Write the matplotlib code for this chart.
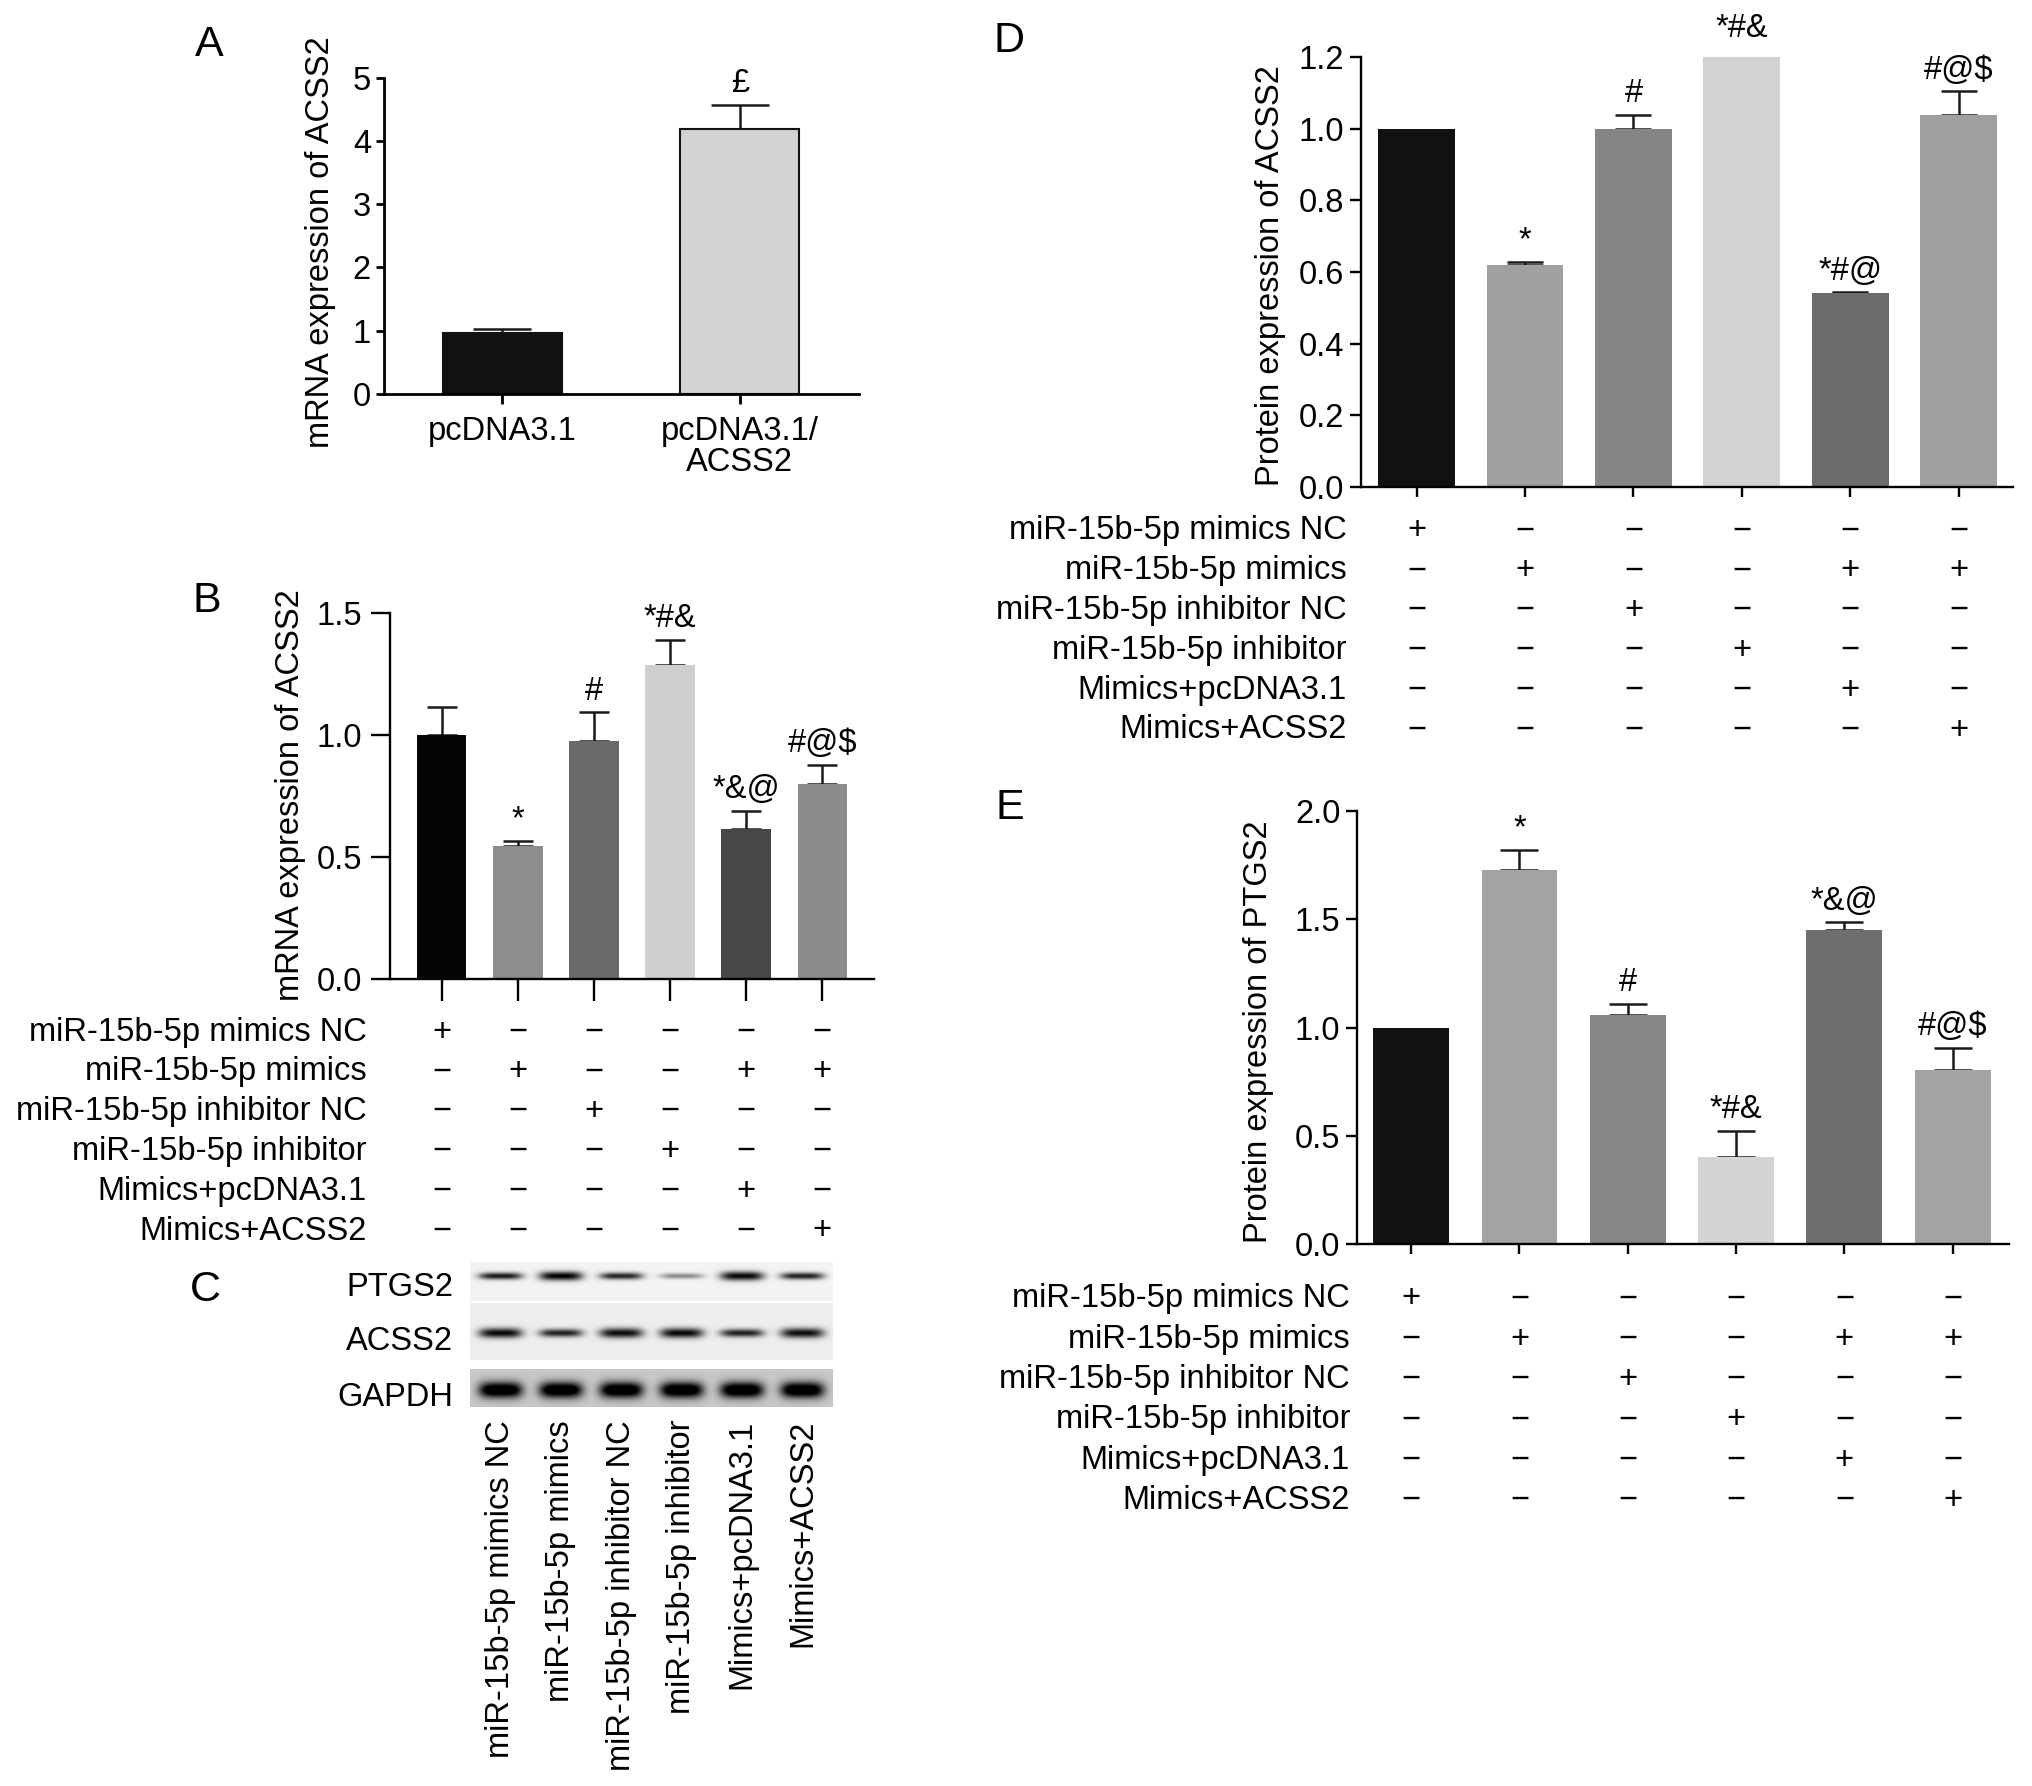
import numpy as np
import matplotlib
matplotlib.use('Agg')
import matplotlib.pyplot as plt
from matplotlib.transforms import blended_transform_factory

plt.rcParams['font.family'] = ['Liberation Sans', 'DejaVu Sans']

W, H = 2032, 1786
DPI = 100
FS = 23.5

# ---------------- data ----------------
a_groups = ['pcDNA3.1', 'pcDNA3.1/\nACSS2']
a_values = [0.97, 4.19]
a_errors = [0.06, 0.38]
a_marks = ['', '£']
a_colors = ['#111111', '#d3d3d3']

row_labels = ['miR-15b-5p mimics NC', 'miR-15b-5p mimics', 'miR-15b-5p inhibitor NC',
              'miR-15b-5p inhibitor', 'Mimics+pcDNA3.1', 'Mimics+ACSS2']
design = [[1, 0, 0, 0, 0, 0],
          [0, 1, 0, 0, 1, 1],
          [0, 0, 1, 0, 0, 0],
          [0, 0, 0, 1, 0, 0],
          [0, 0, 0, 0, 1, 0],
          [0, 0, 0, 0, 0, 1]]

b_values = [1.0, 0.546, 0.975, 1.288, 0.617, 0.80]
b_errors = [0.114, 0.019, 0.12, 0.104, 0.073, 0.078]
b_marks = ['', '*', '#', '*#&', '*&@', '#@$']
b_colors = ['#050505', '#8d8d8d', '#6a6a6a', '#cfcfcf', '#474747', '#8c8c8c']

d_values = [1.0, 0.62, 1.0, 1.2, 0.541, 1.038]
d_errors = [0.0, 0.008, 0.038, 0.02, 0.003, 0.066]
d_marks = ['', '*', '#', '*#&', '*#@', '#@$']
d_colors = ['#111111', '#a0a0a0', '#858585', '#d2d2d2', '#6b6b6b', '#a0a0a0']

e_values = [1.0, 1.726, 1.056, 0.402, 1.451, 0.804]
e_errors = [0.0, 0.095, 0.054, 0.121, 0.035, 0.102]
e_marks = ['', '*', '#', '*#&', '*&@', '#@$']
e_colors = ['#111111', '#a3a3a3', '#868686', '#d4d4d4', '#6e6e6e', '#a3a3a3']

blot_rows = ['PTGS2', 'ACSS2', 'GAPDH']
ptgs2_band = [0.85, 0.95, 0.80, 0.40, 0.92, 0.82]
ptgs2_thick = [1.0, 1.3, 1.0, 0.8, 1.3, 1.0]
acss2_band = [0.90, 0.80, 0.88, 0.90, 0.80, 0.88]
acss2_thick = [1.1, 0.9, 1.1, 1.1, 0.9, 1.1]
gapdh_band = [1.0, 1.0, 1.0, 1.0, 1.0, 1.0]
gapdh_thick = [1.0, 1.0, 1.0, 1.0, 1.0, 1.0]

# ---------------- helpers ----------------
fig = plt.figure(figsize=(W / DPI, H / DPI), dpi=DPI)


def rect(l, t, r, b):
    return [l / W, 1 - b / H, (r - l) / W, (b - t) / H]


def bar_panel(box, xlim, ylim, yticks, fmt, values, errors, colors, marks, width,
              capsize, ylen, xlen, ypad, edge=None, lw=1.7):
    ax = fig.add_axes(rect(*box))
    x = np.arange(len(values))
    if edge:
        ax.bar(x, values, width=width, color=colors, edgecolor=edge, linewidth=1.5, zorder=2)
    else:
        ax.bar(x, values, width=width, color=colors, linewidth=0, zorder=2)
    idx = [i for i, e in enumerate(errors) if e > 0]
    ax.errorbar([x[i] for i in idx], [values[i] for i in idx],
                yerr=[[0] * len(idx), [errors[i] for i in idx]], fmt='none',
                ecolor='#1a1a1a', elinewidth=1.8, capsize=capsize, capthick=1.8, zorder=1)
    for i, m in enumerate(marks):
        if m:
            ax.annotate(m, (x[i], values[i] + errors[i]), xytext=(0, 4),
                        textcoords='offset points', ha='center', va='bottom',
                        fontsize=FS, annotation_clip=False)
    ax.set_xlim(*xlim)
    ax.set_ylim(*ylim)
    ax.set_yticks(yticks)
    ax.set_yticklabels([fmt.format(v) for v in yticks])
    ax.set_xticks(x)
    for s in ['top', 'right']:
        ax.spines[s].set_visible(False)
    for s in ['left', 'bottom']:
        ax.spines[s].set_linewidth(lw)
    ax.tick_params(axis='y', length=ylen, width=lw, labelsize=FS, pad=ypad)
    ax.tick_params(axis='x', length=xlen, width=lw, labelsize=FS)
    return ax


def table(ax, first_px, step_px, label_right_px):
    tr = blended_transform_factory(ax.transData, fig.transFigure)
    for r, (lab, row) in enumerate(zip(row_labels, design)):
        ypx = first_px + r * step_px + 11.5
        yf = 1 - ypx / H
        fig.text(label_right_px / W, yf, lab, ha='right', va='baseline', fontsize=FS)
        for i, v in enumerate(row):
            ax.text(i, yf, '+' if v else '\u2212', transform=tr, ha='center',
                    va='baseline', fontsize=FS, clip_on=False)


def panel_label(x, y, s):
    fig.text(x / W, 1 - y / H, s, ha='center', va='center', fontsize=31)


def ylabel(x, y, s):
    fig.text(x / W, 1 - y / H, s, ha='center', va='center', rotation=90, fontsize=FS)


# ---------------- panel A ----------------
axA = bar_panel((383.5, 77.5, 858.6, 394), (-0.5, 1.5), (0, 5), [0, 1, 2, 3, 4, 5], '{:.0f}',
                a_values, a_errors, a_colors, a_marks, 0.5, 21, 6, 7.5, 3, edge='#111111', lw=2.0)
axA.set_xticklabels(a_groups, linespacing=1.0)
axA.tick_params(axis='x', pad=8)
panel_label(209, 45, 'A')
ylabel(320, 242, 'mRNA expression of ACSS2')

# ---------------- panel B ----------------
axB = bar_panel((390, 613.4, 874, 979), (-0.68, 5.68), (0, 1.5), [0, 0.5, 1.0, 1.5], '{:.1f}',
                b_values, b_errors, b_colors, b_marks, 0.65, 11, 14, 16, 6)
axB.set_xticklabels([])
table(axB, 1029, 39.8, 367)
panel_label(207, 601, 'B')
ylabel(290, 795, 'mRNA expression of ACSS2')

# ---------------- panel C (western blot) ----------------
axC = fig.add_axes(rect(470, 1262, 833, 1407))
nx, ny = 363, 145
xs = np.linspace(-0.5, 5.5, nx)
ys = np.arange(ny) + 0.5
X, Y = np.meshgrid(xs, ys)
dark = np.zeros((ny, nx))
strips = [(0, 39, 0.05, 14, 3.5, ptgs2_band, ptgs2_thick),
          (41, 98, 0.07, 71, 4.5, acss2_band, acss2_thick),
          (107, 145, 0.22, 128, 8.0, gapdh_band, gapdh_thick)]
for (y0, y1, bg, yc, hw, inten, thick) in strips:
    inside = (Y >= y0) & (Y < y1)
    val = np.full_like(X, bg)
    for lane, (I, t) in enumerate(zip(inten, thick)):
        fx = np.exp(-(np.abs(X - lane) / 0.36) ** 4)
        fy = np.exp(-((Y - yc) / (hw * t)) ** 2)
        val = val + I * fx * fy
    dark[inside] = np.clip(val[inside], 0, 1)
axC.imshow(1 - dark, cmap='gray', vmin=0, vmax=1, extent=(-0.5, 5.5, ny, 0),
           aspect='auto', interpolation='bilinear')
axC.set_xlim(-0.5, 5.5)
axC.set_ylim(ny, 0)
axC.axis('off')
for name, ypx in zip(blot_rows, [1288, 1342, 1397]):
    fig.text(453 / W, 1 - ypx / H, name, ha='right', va='center', fontsize=FS)
trC = blended_transform_factory(axC.transData, fig.transFigure)
for i, lab in enumerate(row_labels):
    axC.text(i, 1 - 1420 / H, lab, transform=trC, rotation=90, ha='center', va='top',
             fontsize=FS, clip_on=False)
panel_label(205, 1290, 'C')

# ---------------- panel D ----------------
axD = bar_panel((1360.6, 57, 2013, 487), (-0.516, 5.5), (0, 1.2),
                [0, 0.2, 0.4, 0.6, 0.8, 1.0, 1.2], '{:.1f}',
                d_values, d_errors, d_colors, d_marks, 0.71, 13, 8, 7, 4)
axD.set_xticklabels([])
table(axD, 528, 39.8, 1347)
panel_label(1009, 41, 'D')
ylabel(1271, 276, 'Protein expression of ACSS2')

# ---------------- panel E ----------------
axE = bar_panel((1357, 811, 2009, 1244), (-0.5, 5.52), (0, 2.0),
                [0, 0.5, 1.0, 1.5, 2.0], '{:.1f}',
                e_values, e_errors, e_colors, e_marks, 0.70, 14, 8, 7, 4)
axE.set_xticklabels([])
table(axE, 1296, 40.3, 1350)
panel_label(1010, 808, 'E')
ylabel(1259, 1032, 'Protein expression of PTGS2')

fig.savefig('out.png', dpi=DPI, facecolor='white')
